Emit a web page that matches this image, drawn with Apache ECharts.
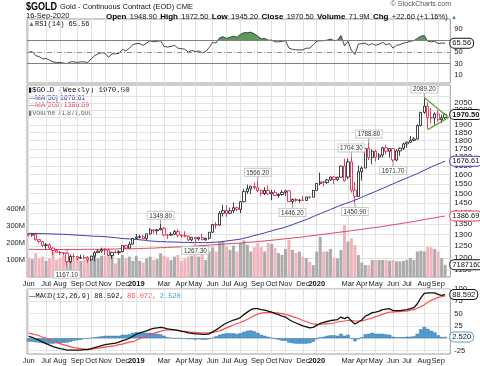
<!DOCTYPE html>
<html><head><meta charset="utf-8">
<script src="https://cdn.jsdelivr.net/npm/echarts@6/dist/echarts.min.js"></script>
<style>html,body{margin:0;padding:0;background:#fff}#c{width:480px;height:366px}</style>
</head><body><div id="c"></div>
<script>
const weekDates = [
'2018-06-01','2018-06-08','2018-06-15','2018-06-22','2018-06-29','2018-07-06','2018-07-13','2018-07-20','2018-07-27','2018-08-03','2018-08-10','2018-08-17','2018-08-24','2018-08-31','2018-09-07','2018-09-14','2018-09-21','2018-09-28','2018-10-05','2018-10-12','2018-10-19','2018-10-26','2018-11-02','2018-11-09','2018-11-16','2018-11-23','2018-11-30','2018-12-07','2018-12-14','2018-12-21','2018-12-28',
'2019-01-04','2019-01-11','2019-01-18','2019-01-25','2019-02-01','2019-02-08','2019-02-15','2019-02-22','2019-03-01','2019-03-08','2019-03-15','2019-03-22','2019-03-29','2019-04-05','2019-04-12','2019-04-19','2019-04-26','2019-05-03','2019-05-10','2019-05-17','2019-05-24','2019-05-31','2019-06-07','2019-06-14','2019-06-21','2019-06-28','2019-07-05','2019-07-12','2019-07-19','2019-07-26','2019-08-02','2019-08-09','2019-08-16','2019-08-23','2019-08-30','2019-09-06','2019-09-13','2019-09-20','2019-09-27','2019-10-04','2019-10-11','2019-10-18','2019-10-25','2019-11-01','2019-11-08','2019-11-15','2019-11-22','2019-11-29','2019-12-06','2019-12-13','2019-12-20','2019-12-27',
'2020-01-03','2020-01-10','2020-01-17','2020-01-24','2020-01-31','2020-02-07','2020-02-14','2020-02-21','2020-02-28','2020-03-06','2020-03-13','2020-03-20','2020-03-27','2020-04-03','2020-04-09','2020-04-17','2020-04-24','2020-05-01','2020-05-08','2020-05-15','2020-05-22','2020-05-29','2020-06-05','2020-06-12','2020-06-19','2020-06-26','2020-07-02','2020-07-10','2020-07-17','2020-07-24','2020-07-31','2020-08-07','2020-08-14','2020-08-21','2020-08-28','2020-09-04','2020-09-11','2020-09-18'];

const openPx = [1303,1298,1302,1278,1270,1253,1255,1241,1231,1223,1222,1219,1184,1206,1205,1199,1201,1200,1192,1207,1222,1228,1235,1233,1210,1223,1222,1226,1252,1241,1258,
1283,1289,1291,1282,1304,1322,1318,1322,1329,1299,1298,1302,1314,1298,1295,1294,1277,1288,1281,1287,1277,1284,1311,1346,1344,1400,1413,1400,1412,1427,1419,1457,1509,1523,1537,1529,1515,1499,1515,1497,1505,1489,1494,1505,1513,1458,1468,1464,1465,1464,1481,1480,
1515,1552,1560,1557,1571,1587,1573,1586,1648,1587,1672,1516,1484,1617,1637,1752,1698,1735,1700,1713,1756,1735,1751,1683,1737,1753,1780,1790,1802,1810,1897,1985,2028,1949,1947,1974,1935,1948.9];
const highPx = [1307,1304,1309,1280,1272,1263,1262,1245,1237,1229,1224,1220,1214,1218,1208,1213,1213,1207,1209,1229,1236,1243,1240,1238,1226,1231,1231,1252,1255,1270,1286,
1303,1299,1299,1304,1330,1323,1326,1349.8,1335,1303,1312,1322,1326,1302,1316,1296,1289,1289,1290,1304,1287,1312,1348,1358,1411,1442,1440,1428,1453,1434,1460,1524,1546,1540,1556,1566.2,1520,1532,1542,1519,1519,1500,1517,1518,1516,1474,1476,1470,1486,1482,1485,1519,
1553,1611,1565,1577,1590,1592,1589,1651,1691,1692,1704.3,1560,1651,1647,1753,1788.8,1747,1745,1725,1762,1775,1753,1753,1747,1758,1788,1795,1829,1823,1904,1987,2089.2,2055,2015,1985,2001,1968,1980];
const lowPx = [1292,1291,1274,1262,1245,1238,1237,1211,1221,1211,1210,1167.1,1178,1196,1190,1196,1194,1180,1187,1185,1221,1221,1212,1208,1196,1219,1212,1224,1238,1240,1257,
1281,1283,1280,1276,1300,1305,1301,1320,1292,1281,1294,1298,1288,1285,1289,1271,1270,1267.3,1274,1276,1273,1278,1309,1327,1340,1384,1382,1395,1401,1411,1400,1455,1497,1497,1521,1506,1485,1491,1491,1465,1486,1478,1487,1487,1456,1446.2,1456,1452,1463,1460,1473,1480,
1514,1542,1536,1550,1566,1548,1565,1584,1563,1575,1504,1450.9,1482,1568,1636,1684,1659,1674,1684,1698,1716,1698,1671.7,1676,1708,1743,1756,1785,1796,1806,1891,1975,1874,1911,1902,1922,1912,1940];
const closePx = [1298,1302,1278,1270,1253,1255,1241,1231,1223,1222,1219,1184,1206,1205,1199,1201,1200,1192,1207,1222,1228,1235,1233,1210,1223,1222,1226,1252,1241,1258,1283,
1289,1291,1282,1304,1322,1318,1322,1329,1299,1298,1302,1314,1298,1295,1294,1277,1288,1281,1287,1277,1284,1311,1346,1344,1400,1413,1400,1412,1427,1419,1457,1509,1523,1537,1529,1515,1499,1515,1497,1505,1489,1494,1505,1513,1458,1468,1464,1465,1464,1481,1480,1515,
1552,1560,1557,1571,1587,1573,1586,1648,1566,1672,1516,1484,1617,1637,1752,1698,1735,1700,1713,1756,1735,1751,1683,1737,1753,1780,1790,1802,1810,1897,1985,2028,1949,1947,1974,1935,1948,1970.5];
const volumeM = [115,105,140,110,120,95,110,150,100,110,125,160,120,105,110,95,100,120,105,140,110,125,125,130,130,80,110,130,110,120,95,
125,95,85,110,120,100,105,140,125,115,100,120,130,95,110,120,125,135,120,130,100,150,175,150,205,210,180,160,185,150,200,215,190,150,175,200,176,150,200,194,170,141,130,165,218,159,141,149,120,112,90,70,
150,237,150,150,165,112,110,159,305,208,228,188,129,85,70,70,100,100,100,100,100,95,100,92,92,95,100,112,100,150,155,150,178,175,165,150,112,71.87];
const ma50 = [1306,1306,1305,1305,1305,1304,1304,1303,1303,1302,1302,1301,1300,1299,1298,1297,1296,1295,1294,1293,1293,1292,1291,1290,1288,1287,1285,1283,1282,1281,1280,
1279,1277,1276,1274,1272,1271,1270,1269,1269,1268,1268,1267,1267,1266,1266,1266,1265,1265,1265,1265,1265,1265,1266,1267,1268,1270,1272,1274,1276,1278,1280,1284,1288,1292,1296,1300,1304,1308,1313,1317,1322,1326,1330,1335,1340,1346,1352,1358,1364,1370,1377,1384,
1391,1398,1405,1412,1419,1426,1433,1440,1446,1452,1458,1465,1472,1480,1488,1495,1503,1510,1518,1526,1534,1542,1550,1558,1566,1574,1582,1590,1598,1606,1615,1624,1634,1643,1652,1660,1668,1676.61];
const ma200 = [1236,1236,1235,1235,1235,1235,1235,1235,1235,1235,1235,1235,1235,1235,1235,1235,1236,1236,1236,1236,1236,1236,1237,1237,1237,1237,1238,1238,1238,1238,1238,
1239,1239,1240,1240,1241,1241,1242,1243,1243,1244,1245,1245,1246,1247,1247,1248,1249,1250,1251,1252,1253,1254,1255,1256,1257,1258,1259,1260,1261,1262,1263,1264,1266,1267,1268,1270,1271,1272,1274,1275,1277,1278,1280,1282,1283,1285,1287,1288,1290,1292,1294,1296,
1298,1300,1302,1304,1306,1308,1310,1312,1314,1316,1318,1320,1322,1324,1327,1329,1331,1333,1335,1338,1340,1343,1345,1348,1350,1353,1355,1358,1361,1364,1367,1370,1373,1376,1378,1381,1384,1386.69];
const rsi14 = [50,51,44,42,38,39,36,33,32,32,31,30,33,33,32,33,33,32,38,44,47,49,48,41,47,47,48,55,52,57,63,
65,65,62,66,70,68,69,70,60,59,60,62,57,56,55,50,53,51,52,49,51,58,67,66,75,77,74,76,78,76,81,84,84,85,82,78,73,74,71,71,68,68,69,70,57,55,54,54,54,57,57,63,
69,70,70,71,73,70,71,79,61,69,53,46,64,65,66,62,65,62,64,67,63,65,57,62,63,66,67,69,70,74,78,79,69,68,69,65,66,65.56];
const macdLine = [3.7,2,-1,-4,-8,-11,-14,-17,-19,-21,-22,-24,-24,-24,-24,-24,-23,-23,-21,-19,-17,-15,-13,-12,-11,-10,-8,-5,-3,0,4,
8,11,13,15,18,20,21,22,21,19,18,17,16,14,13,11,10,9,9,8,8,9,13,17,22,27,31,34,37,39,42,48,53,58,60,60,58,57,55,53,50,48,45,43,38,34,31,28,25,23,21,22,
26,30,32,34,36,37,38,43,40,43,35,29,33,37,45,48,52,53,55,58,59,60,56,56,56,57,58,60,62,70,82,91,92,92,92,89,87,88.592];
const signalLine = [10.5,9,7,5,2,0,-3,-6,-9,-11,-13,-15,-17,-19,-20,-21,-22,-22,-22,-21,-20,-19,-18,-17,-16,-15,-13,-12,-10,-8,-7,
-4,-1,2,4,7,10,12,14,16,17,17,17,16,15,14,13,12,12,11,11,11,11,12,13,15,18,21,24,27,30,32,35,38,42,46,49,51,52,52,52,52,51,50,48,47,44,42,39,36,34,31,29,
28,28,29,29,30,31,33,34,35,36,36,35,35,35,37,39,41,44,46,49,51,53,53,54,54,55,55,57,58,61,64,68,73,77,80,83,84.5,86.072];
const macdHist = [-6.8,-7,-8,-9,-10,-11,-11,-11,-10,-10,-9,-9,-7,-5,-4,-3,-1,-1,1,2,3,4,5,5,5,5,5,7,7,8,11,
12,12,11,11,11,10,9,8,5,2,1,0,0,-1,-1,-2,-2,-3,-2,-3,-3,-2,1,4,7,9,10,10,10,9,10,13,15,16,14,11,7,5,3,1,-2,-3,-5,-5,-9,-10,-11,-11,-11,-11,-10,-7,
-2,2,3,5,6,6,5,9,5,7,-1,-6,-2,2,8,9,11,9,9,9,8,7,3,2,2,2,3,3,4,9,18,23,19,15,12,6,2.5,2.52];

const monthTickIdx = [0,5,9,14,18,22,27,31,35,39,44,48,53,57,61,66,70,74,79,83,88,92,96,100,105,109,114,118];
const monthTickText = ['Jun','Jul','Aug','Sep','Oct','Nov','Dec','2019','','Mar','Apr','May','Jun','Jul','Aug','Sep','Oct','Nov','Dec','2020','','Mar','Apr','May','Jun','Jul','Aug','Sep'];
const priceTicks = [1150,1200,1250,1300,1350,1400,1450,1500,1550,1600,1650,1700,1750,1800,1850,1900,1950,2000,2050,2100];
const volumeTicks = [100,200,300,400];
const rsiTicks = [10,30,50,70,90];
const macdTicks = [-25,0,25,50,75,100];
const annIdx = [11,38,48,66,76,93,94,98,105,114];
const annPrice = [1167.1,1349.8,1267.3,1566.2,1446.2,1704.3,1450.9,1788.8,1671.7,2089.2];
const annAbove = [false,true,false,true,false,true,false,true,false,true];
const triangleUpper = [[114,2089.2],[121,1950]];
const triangleLower = [[115,1870],[121,1950]];

const cats = weekDates.concat(['']);
const labelMap = {}; monthTickIdx.forEach((k,j)=>{labelMap[k]=monthTickText[j];});
const tickSet = new Set(monthTickIdx);
const RED = '#dc143c', BLK = '#111';
const FONT = '"Liberation Sans", Arial, sans-serif';
const MONO = '"Liberation Mono", "DejaVu Sans Mono", monospace';
const CLEAR = 'rgba(0,0,0,0)';

const GL = 27, GW = 423.3;
function xAx(gi, showLabel){
  return {type:'category', gridIndex:gi, data:cats, boundaryGap:true,
    axisLine:{show:false}, axisTick:{show:false},
    axisLabel:{show:showLabel, interval:(i)=>!!labelMap[i], margin:3,
      formatter:(v,i)=>{const t=labelMap[i]||''; return /^\d{4}$/.test(t)?'{y|'+t+'}':t;},
      fontSize:7.5, fontFamily:FONT, color:'#222', rich:{y:{fontSize:7.5, fontWeight:'bold', fontFamily:FONT, color:'#111'}}},
    splitLine:{show:true, interval:(i)=>tickSet.has(i), alignWithLabel:true, lineStyle:{color:'#e2e2e2', width:1}}};
}
function boxLine(v, text, border, bold){
  return {yAxis:v, lineStyle:{color:CLEAR, width:0},
    label:{show:true, position:'end', distance:0, formatter:text, color:'#111', fontSize:7.5, fontFamily:FONT,
      fontWeight: bold?'bold':'normal', backgroundColor:'#fff', borderColor:border, borderWidth:1, borderRadius:4,
      padding:[1,2,0,2], opacity:1}};
}
function segment(pair){
  return pair.map(p=>({coord:p, lineStyle:{color:'#5aaa32', width:1.4, type:'solid'}, label:{show:false}}));
}

const candleData = weekDates.map((d,i)=>{
  const prev = i>0 ? closePx[i-1] : 1303;
  const col = closePx[i] >= prev ? BLK : RED;
  return {value:[openPx[i], closePx[i], lowPx[i], highPx[i]],
    itemStyle:{color:'#fff', color0:col, borderColor:col, borderColor0:col, borderWidth:0.8}};
});
const volData = weekDates.map((d,i)=>{
  const prev = i>0 ? closePx[i-1] : 1303;
  return {value:volumeM[i], itemStyle:{color: closePx[i] >= prev ? '#ababab' : '#f1b3bc'}};
});
const annData = annIdx.map((k,j)=>({
  coord:[k, annPrice[j]], value:annPrice[j].toFixed(2),
  symbolOffset:[0, annAbove[j] ? -2.5 : 2.5],
  label:{position: annAbove[j] ? 'top' : 'bottom', distance:0}
}));

const option = {
  animation:false,
  backgroundColor:'#fff',
  grid:[
    {left:GL, top:19, width:GW, height:64, show:true, borderColor:'#9c9c9c', borderWidth:1},
    {left:GL, top:85, width:GW, height:192, show:true, borderColor:'#9c9c9c', borderWidth:1},
    {left:GL, top:289, width:GW, height:65, show:true, borderColor:'#9c9c9c', borderWidth:1}
  ],
  xAxis:[xAx(0,false), xAx(1,true), xAx(2,true)],
  yAxis:[
    {gridIndex:0, type:'value', min:-4, max:108, position:'right', axisLine:{show:false},
      axisTick:{show:false, customValues:rsiTicks},
      axisLabel:{customValues:rsiTicks, fontSize:7.5, fontFamily:FONT, color:'#222', margin:4}, splitLine:{show:false}},
    {gridIndex:1, type:'log', logBase:10, min:1123, max:2182, position:'right', axisLine:{show:false},
      axisTick:{show:false, customValues:priceTicks},
      axisLabel:{customValues:priceTicks, formatter:(v)=>String(Math.round(v)), fontSize:8, fontFamily:FONT, color:'#222', margin:4},
      splitLine:{show:true, customValues:priceTicks, lineStyle:{color:'#e2e2e2'}}},
    {gridIndex:1, type:'value', min:0, max:1130, position:'left', axisLine:{show:false},
      axisTick:{show:false, customValues:volumeTicks},
      axisLabel:{customValues:volumeTicks, formatter:'{value}M', fontSize:7.5, fontFamily:FONT, color:'#222', margin:2}, splitLine:{show:false}},
    {gridIndex:2, type:'value', min:-32, max:100, position:'right', axisLine:{show:false},
      axisTick:{show:false, customValues:macdTicks},
      axisLabel:{customValues:macdTicks, fontSize:7.5, fontFamily:FONT, color:'#222', margin:4},
      splitLine:{show:true, customValues:macdTicks, lineStyle:{color:'#e6e6e6'}}}
  ],
  visualMap:[{type:'piecewise', show:false, seriesIndex:0, dimension:1,
    pieces:[{gt:70, lte:120, color:'#5e9a5e'}, {gte:-20, lte:70, color:CLEAR}],
    outOfRange:{color:CLEAR}}],
  series:[
    {name:'rsiFill', type:'line', xAxisIndex:0, yAxisIndex:0, data:rsi14, symbol:'none', silent:true,
      lineStyle:{width:0, opacity:0}, areaStyle:{origin:70, opacity:1}, z:1},
    {name:'RSI', type:'line', xAxisIndex:0, yAxisIndex:0, data:rsi14, symbol:'none', silent:true,
      lineStyle:{color:'#333', width:0.9}, z:3,
      markLine:{silent:true, symbol:['none','none'], animation:false, data:[
        {yAxis:70, lineStyle:{color:'#808080', width:1, type:'solid'}, label:{show:false}},
        {yAxis:30, lineStyle:{color:'#808080', width:1, type:'solid'}, label:{show:false}},
        {yAxis:50, lineStyle:{color:'#909090', width:1, type:[5,2,1,2]}, label:{show:false}},
        boxLine(65.56, '65.56', '#111', false)
      ]}},
    {name:'Volume', type:'bar', xAxisIndex:1, yAxisIndex:2, data:volData, barCategoryGap:'14%', silent:true, z:1,
      markLine:{silent:true, symbol:['none','none'], data:[boxLine(71.87, '71871600', '#111', false)]}},
    {name:'MA200', type:'line', xAxisIndex:1, yAxisIndex:1, data:ma200, symbol:'none', silent:true,
      lineStyle:{color:'#e0435f', width:1}, z:2,
      markLine:{silent:true, symbol:['none','none'], data:[boxLine(1386.69, '1386.69', '#e0435f', false)]}},
    {name:'MA50', type:'line', xAxisIndex:1, yAxisIndex:1, data:ma50, symbol:'none', silent:true,
      lineStyle:{color:'#3b3bb0', width:1}, z:2,
      markLine:{silent:true, symbol:['none','none'], data:[boxLine(1676.61, '1676.61', '#3b3bb0', false)]}},
    {name:'GOLD', type:'candlestick', xAxisIndex:1, yAxisIndex:1, data:candleData, barWidth:2.8, silent:true, z:4,
      markPoint:{silent:true, symbol:'rect', symbolSize:[1,5], itemStyle:{color:'#999'}, data:annData,
        label:{show:true, formatter:(p)=>p.value, color:'#333', fontSize:6.3, fontFamily:FONT,
          backgroundColor:'#fff', borderColor:'#c8c8c8', borderWidth:1, padding:[1,1.5,0,1.5]}},
      markLine:{silent:true, symbol:['none','none'], data:[
        segment(triangleUpper), segment(triangleLower),
        boxLine(1970.5, '1970.50', '#111', true)
      ]}},
    {name:'Hist', type:'bar', xAxisIndex:2, yAxisIndex:3, data:macdHist, barCategoryGap:'0%', silent:true, z:1,
      itemStyle:{color:'#4d9bd4', borderColor:'#2d6c9e', borderWidth:0.4},
      markLine:{silent:true, symbol:['none','none'], data:[boxLine(2.52, '2.520', '#4aa0e0', false)]}},
    {name:'Signal', type:'line', xAxisIndex:2, yAxisIndex:3, data:signalLine, symbol:'none', silent:true,
      lineStyle:{color:'#ff4d4d', width:1.2}, z:2},
    {name:'MACD', type:'line', xAxisIndex:2, yAxisIndex:3, data:macdLine, symbol:'none', silent:true,
      lineStyle:{color:'#111', width:1.3}, z:3,
      markLine:{silent:true, symbol:['none','none'], data:[boxLine(88.592, '88.592', '#111', false)]}}
  ],
  graphic:[
    {type:'text', x:26, y:1.5, scaleX:0.86, style:{text:'$GOLD', font:'bold 10.5px '+FONT, fill:'#000'}},
    {type:'text', left:60, top:2.5, style:{text:'Gold - Continuous Contract (EOD) CME', font:'7.5px '+FONT, fill:'#111'}},
    {type:'text', right:29, top:1, style:{text:'© StockCharts.com', font:'7px '+FONT, fill:'#555'}},
    {type:'text', left:26, top:11.5, style:{text:'16-Sep-2020', font:'7.5px '+FONT, fill:'#111'}},
    {type:'text', left:106, top:11, style:{
      text:'{l|Open} {v|1948.90} {l|High} {v|1972.50} {l|Low} {v|1945.20} {l|Close} {v|1970.50} {l|Volume} {v|71.9M} {l|Chg} {v|+22.60 (+1.16%)} {g|▲}',
      rich:{l:{fontSize:8, fontWeight:'bold', fontFamily:FONT, fill:'#000'}, v:{fontSize:7.5, fontFamily:FONT, fill:'#111'}, g:{fontSize:6, fill:'#2e9a2e'}}}},
    {type:'text', left:28, top:20.5, style:{
      text:'{i|▲}{t|RSI(14) 65.56}', rich:{i:{fontSize:7, fill:'#4a8a4a'}, t:{fontSize:7, fontFamily:MONO, fill:'#111'}}}},
    {type:'text', left:28, top:87, style:{
      text:'{i|▮}{t|$GOLD (Weekly) 1970.50}', rich:{i:{fontSize:7, fill:'#111'}, t:{fontSize:7.4, fontFamily:MONO, fill:'#111'}}}},
    {type:'text', left:28, top:94.5, style:{
      text:'{i|—}{t|MA(50) 1676.61}', rich:{i:{fontSize:7, fill:'#3b3bb0'}, t:{fontSize:7, fontFamily:FONT, fill:'#3b3bb0'}}}},
    {type:'text', left:28, top:102, style:{
      text:'{i|—}{t|MA(200) 1386.69}', rich:{i:{fontSize:7, fill:'#e0435f'}, t:{fontSize:7, fontFamily:FONT, fill:'#e0435f'}}}},
    {type:'text', left:28, top:109.5, style:{
      text:'{i|▮}{t|Volume 71,871,600}', rich:{i:{fontSize:7, fill:'#777'}, t:{fontSize:7, fontFamily:FONT, fill:'#666'}}}},
    {type:'text', left:28, top:290, style:{
      text:'{i|—}{t|MACD(12,26,9) 88.592,} {r|86.072,} {b|2.520}', rich:{i:{fontSize:7.5, fill:'#111'}, t:{fontSize:7, fontFamily:MONO, fill:'#111'}, r:{fontSize:7, fontFamily:MONO, fill:'#ff4d4d'}, b:{fontSize:7, fontFamily:MONO, fill:'#3a9ad9'}}}}
  ]
};
const chart = echarts.init(document.getElementById('c'), null, {renderer:'canvas', width:480, height:366});
chart.setOption(option);
</script>
</body></html>
